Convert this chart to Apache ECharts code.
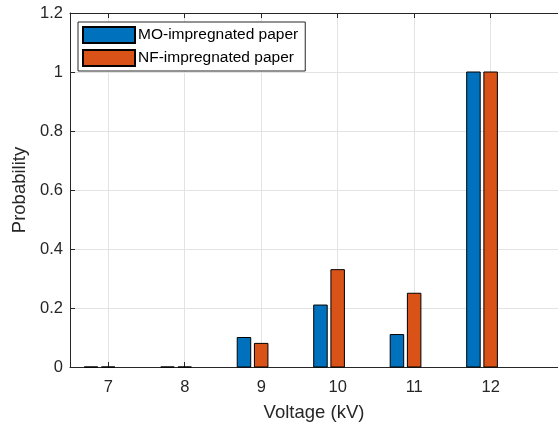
<!DOCTYPE html>
<html>
<head>
<meta charset="utf-8">
<script src="https://cdn.jsdelivr.net/npm/echarts@6/dist/echarts.min.js"></script>
<style>
  html, body { margin: 0; padding: 0; background: #fff; }
  #chart { width: 558px; height: 427px; }
</style>
</head>
<body>
<div id="chart"></div>
<script>
// voltage categories (kV) and breakdown probability
var voltage = [7, 8, 9, 10, 11, 12];
var moPaper = [0, 0, 0.10, 0.21, 0.11, 1.00];
var nfPaper = [0, 0, 0.08, 0.33, 0.25, 1.00];
var yTicks = [0, 0.2, 0.4, 0.6, 0.8, 1, 1.2];

var axisColor = '#262626';
var font = 'Liberation Sans, Arial, Helvetica, sans-serif';

function pairs(vals) {
  var out = [];
  for (var i = 0; i < voltage.length; i++) {
    out.push([voltage[i], vals[i]]);
  }
  return out;
}

// draws one bar; offset/width are pixel style constants
function barRenderer(offset, width) {
  return function (params, api) {
    var base = api.coord([api.value(0), 0]);
    var top = api.coord([api.value(0), api.value(1)]);
    return {
      type: 'rect',
      shape: { x: base[0] + offset, y: top[1], width: width, height: base[1] - top[1] },
      style: api.style({ stroke: '#000', lineWidth: 1 })
    };
  };
}

var myChart = echarts.init(document.getElementById('chart'));
myChart.setOption({
  animation: false,
  textStyle: { fontFamily: font },
  grid: { left: 70, top: 13, right: 0, bottom: 57 },
  legend: {
    orient: 'vertical',
    left: 78,
    top: 22,
    padding: [4, 7, 4, 4],
    itemGap: 5,
    itemWidth: 52,
    itemHeight: 16,
    icon: 'rect',
    borderColor: axisColor,
    borderWidth: 1,
    backgroundColor: '#fff',
    textStyle: { fontFamily: font, fontSize: 15.5, color: '#000', padding: [0, 0, 0, -2] },
    data: ['MO-impregnated paper', 'NF-impregnated paper']
  },
  xAxis: [
    {
      type: 'value',
      min: 6.5,
      max: 12.88,
      splitNumber: 6,
      name: 'Voltage (kV)',
      nameLocation: 'middle',
      nameGap: 36,
      nameTextStyle: { fontFamily: font, fontSize: 18.5, color: axisColor },
      axisLine: { lineStyle: { color: axisColor, width: 1 } },
      axisTick: { inside: true, length: 5, lineStyle: { color: axisColor } },
      axisLabel: { showMinLabel: false, showMaxLabel: false, margin: 12, fontSize: 16.5, color: axisColor, fontFamily: font },
      splitLine: { show: true, lineStyle: { color: '#e3e3e3', width: 1 } }
    },
    {
      type: 'value',
      position: 'top',
      min: 6.5,
      max: 12.88,
      splitNumber: 6,
      axisLine: { onZero: false, lineStyle: { color: axisColor, width: 1 } },
      axisTick: { inside: true, length: 5, lineStyle: { color: axisColor } },
      axisLabel: { show: false },
      splitLine: { show: false }
    }
  ],
  yAxis: {
    type: 'value',
    min: yTicks[0],
    max: yTicks[yTicks.length - 1],
    interval: 0.2,
    name: 'Probability',
    nameLocation: 'middle',
    nameGap: 35,
    nameTextStyle: { fontFamily: font, fontSize: 18.5, color: axisColor },
    axisLine: { show: true, lineStyle: { color: axisColor, width: 1 } },
    axisTick: { show: true, inside: true, length: 5, lineStyle: { color: axisColor } },
    axisLabel: { margin: 7, fontSize: 16.5, color: axisColor, fontFamily: font },
    splitLine: { show: true, lineStyle: { color: '#e3e3e3', width: 1 } }
  },
  series: [
    {
      name: 'MO-impregnated paper',
      type: 'custom',
      renderItem: barRenderer(-24, 13.5),
      itemStyle: { color: '#0072BD', borderColor: '#000', borderWidth: 1 },
      encode: { x: 0, y: 1 },
      data: pairs(moPaper),
      z: 3
    },
    {
      name: 'NF-impregnated paper',
      type: 'custom',
      renderItem: barRenderer(-6.8, 13.5),
      itemStyle: { color: '#D95319', borderColor: '#000', borderWidth: 1 },
      encode: { x: 0, y: 1 },
      data: pairs(nfPaper),
      z: 3
    }
  ]
});
</script>
</body>
</html>
